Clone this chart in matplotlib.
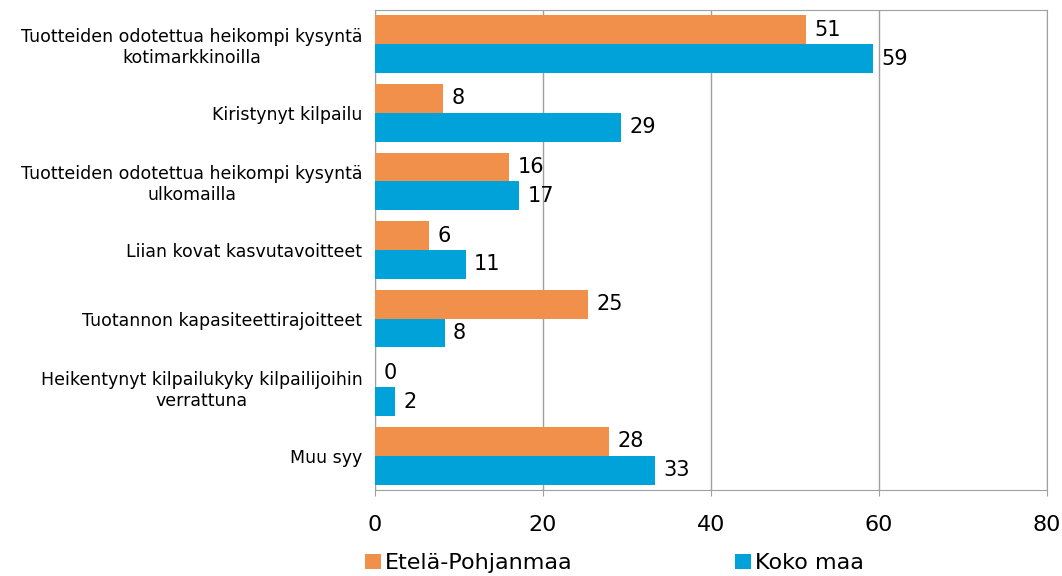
import numpy as np
import matplotlib.pyplot as plt

categories = [
    "Tuotteiden odotettua heikompi kysyntä\nkotimarkkinoilla",
    "Kiristynyt kilpailu",
    "Tuotteiden odotettua heikompi kysyntä\nulkomailla",
    "Liian kovat kasvutavoitteet",
    "Tuotannon kapasiteettirajoitteet",
    "Heikentynyt kilpailukyky kilpailijoihin\nverrattuna",
    "Muu syy",
]
etela_pohjanmaa = [51.3, 8.1, 16.0, 6.4, 25.4, 0.0, 27.9]
koko_maa = [59.3, 29.3, 17.2, 10.8, 8.3, 2.4, 33.3]
series_names = ["Etelä-Pohjanmaa", "Koko maa"]
colors = ["#F0904A", "#00A3D9"]

fig = plt.figure(figsize=(10.62, 5.76), dpi=100)
ax = fig.add_axes([0.353, 0.149, 0.633, 0.834])

y = np.arange(len(categories))
h = 0.42
b1 = ax.barh(y - h / 2, etela_pohjanmaa, height=h, color=colors[0], label=series_names[0], zorder=3)
b2 = ax.barh(y + h / 2, koko_maa, height=h, color=colors[1], label=series_names[1], zorder=3)

for bars in (b1, b2):
    for bar in bars:
        v = bar.get_width()
        ax.text(v + 1.0, bar.get_y() + bar.get_height() / 2, f"{v:.0f}",
                va="center", ha="left", fontsize=15)

ax.set_xlim(0, 80)
ax.set_xticks([0, 20, 40, 60, 80])
ax.set_ylim(len(categories) - 0.5, -0.5)
ax.set_yticks(y)
ax.set_yticklabels(categories, fontsize=12.5, linespacing=1.2)
for lbl in ax.get_yticklabels():
    lbl.set_horizontalalignment("right")
    lbl.set_multialignment("center")
ax.tick_params(axis="y", length=0, pad=9)
ax.tick_params(axis="x", length=4, color="#A0A0A0", pad=14, labelsize=16)

ax.grid(axis="x", color="#A0A0A0", linewidth=1, zorder=0)
for s in ax.spines.values():
    s.set_color("#A0A0A0")

fig.legend(handles=[b1, b2], loc="lower left", bbox_to_anchor=(0.325, -0.03), ncol=2,
           frameon=False, handlelength=0.7, handleheight=0.7, handletextpad=0.2,
           columnspacing=7.3, prop={"size": 16})

fig.savefig("out.png", dpi=100)
